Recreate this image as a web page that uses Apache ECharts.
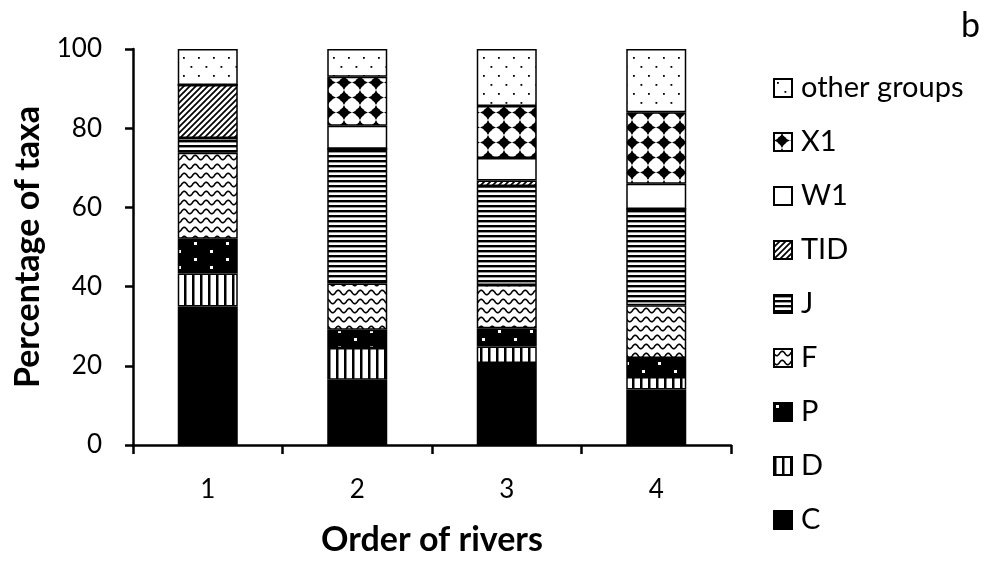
<!DOCTYPE html>
<html><head><meta charset="utf-8">
<script src="https://cdn.jsdelivr.net/npm/echarts@6/dist/echarts.min.js"></script>
<style>html,body{margin:0;padding:0;background:#fff}#c{width:993px;height:563px}</style>
</head><body><div id="c"></div>
<script>
const categories = ['1','2','3','4'];
const seriesNames = ['C','D','P','F','J','TID','W1','X1','other groups'];
const C = [35.0, 16.5, 20.7, 14.0];
const D = [8.3, 8.0, 4.2, 3.2];
const P = [8.8, 4.6, 4.6, 4.8];
const F = [21.7, 11.7, 10.9, 13.3];
const J = [3.7, 34.0, 25.0, 24.3];
const TID = [13.4, 0, 1.4, 0];
const W1 = [0, 5.8, 5.7, 6.4];
const X1 = [0, 12.4, 13.1, 18.0];
const otherGroups = [9.1, 7.0, 14.4, 16.0];
const yTicks = [0, 20, 40, 60, 80, 100];

function tile(w, h, draw) {
  const c = document.createElement('canvas');
  c.width = w; c.height = h;
  const x = c.getContext('2d');
  x.fillStyle = '#fff'; x.fillRect(0, 0, w, h);
  x.fillStyle = '#000'; x.strokeStyle = '#000';
  draw(x, w, h);
  return { image: c, repeat: 'repeat' };
}
const fills = {
  'C': '#000',
  'D': tile(8, 8, (x) => { x.fillRect(0, 0, 2.5, 8); }),
  'P': tile(32, 16, (x) => { x.fillRect(0, 0, 32, 16); x.fillStyle = '#fff'; x.fillRect(2, 2, 3, 3); x.fillRect(18, 10, 3, 3); }),
  'F': tile(11, 9, (x) => { x.lineWidth = 1.6; x.beginPath(); for (let i = -1; i <= 12; i += 0.5) { const y = 4.5 + 2.3 * Math.sin(2 * Math.PI * i / 11); if (i === -1) x.moveTo(i, y); else x.lineTo(i, y); } x.stroke(); }),
  'J': tile(4, 5, (x) => { x.fillRect(0, 0, 4, 2.4); }),
  'TID': tile(6, 6, (x) => { x.lineWidth = 1.7; x.beginPath(); x.moveTo(-1, 7); x.lineTo(7, -1); x.moveTo(-4, 4); x.lineTo(4, -4); x.moveTo(2, 10); x.lineTo(10, 2); x.stroke(); }),
  'W1': '#fff',
  'X1': tile(16, 15, (x) => { x.beginPath(); x.moveTo(8, 0); x.quadraticCurveTo(10, 5.5, 16, 7.5); x.quadraticCurveTo(10, 9.5, 8, 15); x.quadraticCurveTo(6, 9.5, 0, 7.5); x.quadraticCurveTo(6, 5.5, 8, 0); x.closePath(); x.fill(); x.beginPath(); x.arc(8, 7.5, 4.6, 0, Math.PI * 2); x.fill(); }),
  'other groups': tile(15, 18, (x) => { x.fillRect(3, 3, 1.8, 1.8); x.fillRect(10.5, 12, 1.8, 1.8); })
};
const dataMap = { 'C': C, 'D': D, 'P': P, 'F': F, 'J': J, 'TID': TID, 'W1': W1, 'X1': X1, 'other groups': otherGroups };
const FONT = 'Lato';

const chart = echarts.init(document.getElementById('c'), null, { renderer: 'canvas' });
chart.setOption({
  animation: false,
  backgroundColor: '#fff',
  title: { text: 'b', right: 8, top: 4, textStyle: { fontFamily: FONT, fontSize: 34, fontWeight: 'normal', color: '#000' } },
  grid: { left: 133, right: 262, top: 49, bottom: 118 },
  legend: {
    orient: 'vertical', left: 768, top: 68,
    itemWidth: 18, itemHeight: 18, itemGap: 24,
    icon: 'rect',
    data: seriesNames.slice().reverse(),
    textStyle: { fontFamily: FONT, fontSize: 29, color: '#000', lineHeight: 30, padding: [0, 0, 0, 4] }
  },
  xAxis: {
    type: 'category', data: categories,
    name: 'Order of rivers', nameLocation: 'middle', nameGap: 78,
    nameTextStyle: { fontFamily: FONT, fontSize: 34, fontWeight: 'bold', color: '#000' },
    axisLine: { lineStyle: { color: '#000', width: 2.5 } },
    axisTick: { show: true, length: 9, lineStyle: { color: '#000', width: 2.5 } },
    axisLabel: { fontFamily: FONT, fontSize: 26, color: '#000', margin: 32 }
  },
  yAxis: {
    type: 'value', min: 0, max: 100, interval: 20,
    name: 'Percentage of taxa', nameLocation: 'middle', nameGap: 88,
    nameTextStyle: { fontFamily: FONT, fontSize: 34, fontWeight: 'bold', color: '#000' },
    axisLine: { show: true, lineStyle: { color: '#000', width: 2.5 } },
    axisTick: { show: true, length: 8, lineStyle: { color: '#000', width: 2.5 } },
    splitLine: { show: false },
    axisLabel: { fontFamily: FONT, fontSize: 26, color: '#000', margin: 31,
      formatter: (v) => yTicks.includes(v) ? String(v) : '' }
  },
  series: seriesNames.map((n) => ({
    name: n, type: 'bar', stack: 'all', barWidth: 60,
    data: dataMap[n],
    itemStyle: { color: fills[n], borderColor: '#000', borderWidth: 1.5 },
    emphasis: { disabled: true }
  }))
});
</script></body></html>
